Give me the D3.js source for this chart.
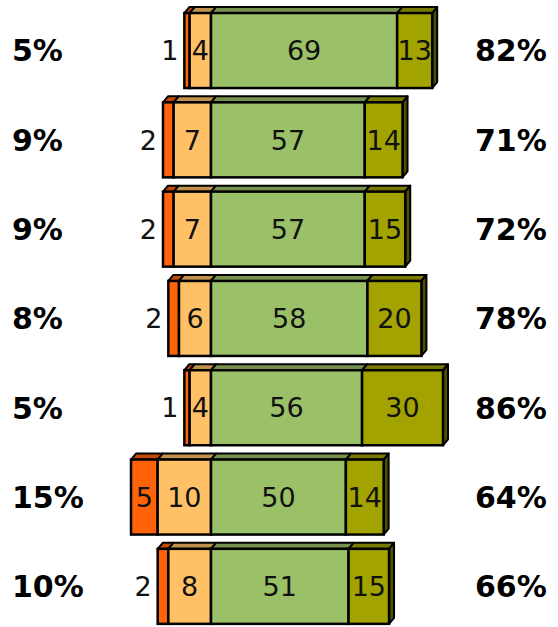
<!DOCTYPE html>
<html>
  <head>
  <title>Diverging 3D bars</title>
  <script src="https://cdn.jsdelivr.net/npm/d3@7"></script>
  <style type="text/css">
    body { margin: 0; background: #fff; }
    svg { display: block; }
  </style>
  </head>
  <body>
  </body>
  <script type="text/javascript">
    // data, one entry per row (top to bottom)
    var leftTotals  = ["5%", "9%", "9%", "8%", "5%", "15%", "10%"];
    var rightTotals = ["82%", "71%", "72%", "78%", "86%", "64%", "66%"];
    var strongNeg = [1, 2, 2, 2, 1, 5, 2];
    var weakNeg   = [4, 7, 7, 6, 4, 10, 8];
    var weakPos   = [69, 57, 57, 58, 56, 50, 51];
    var strongPos = [13, 14, 15, 20, 30, 14, 15];

    var w = 558, h = 627;
    var dx = 5, dy = 6;   // depth of the 3d effect

    var svg = d3.select("body").append("svg")
      .attr("width", w)
      .attr("height", h);

    var rows = d3.range(leftTotals.length);

    var y = d3.scaleBand()
      .domain(rows)
      .range([5.9, 631])
      .paddingInner(0.16)
      .paddingOuter(0.08);

    // the left half is drawn on a wider scale than the right half
    var xL = d3.scaleLinear().domain([0, 15]).range([211, 131]);
    var xR = d3.scaleLinear().domain([0, 86]).range([211, 443]);

    var colors = {
      sn: { front: "#ff6309", top: "#c04a06" },
      wn: { front: "#ffc066", top: "#c0904c" },
      wp: { front: "#9bc168", top: "#76924e" },
      sp: { front: "#a3a300", top: "#7a7a00", side: "#4f4f00" }
    };

    var segs = [];
    rows.forEach(function(i) {
      var a = xL(strongNeg[i] + weakNeg[i]), b = xL(weakNeg[i]), c = xL(0);
      var d = xR(weakPos[i]), e = xR(weakPos[i] + strongPos[i]);
      segs.push({ row: i, key: "sn", v: strongNeg[i], x0: a, x1: b });
      segs.push({ row: i, key: "wn", v: weakNeg[i], x0: b, x1: c });
      segs.push({ row: i, key: "wp", v: weakPos[i], x0: c, x1: d });
      segs.push({ row: i, key: "sp", v: strongPos[i], x0: d, x1: e, last: true });
    });

    var g = svg.selectAll("g.seg")
      .data(segs)
      .enter()
      .append("g")
      .attr("class", "seg");

    // top faces
    g.append("polygon")
      .attr("points", function(d) {
        var t = y(d.row);
        return [[d.x0, t], [d.x0 + dx, t - dy], [d.x1 + dx, t - dy], [d.x1, t]].join(" ");
      })
      .attr("fill", function(d) { return colors[d.key].top; })
      .attr("stroke", "#000")
      .attr("stroke-width", 2)
      .attr("stroke-linejoin", "round");

    // side face at the right end
    g.filter(function(d) { return d.last; })
      .append("polygon")
      .attr("points", function(d) {
        var t = y(d.row), bt = t + y.bandwidth();
        return [[d.x1, t], [d.x1 + dx, t - dy], [d.x1 + dx, bt - dy], [d.x1, bt]].join(" ");
      })
      .attr("fill", colors.sp.side)
      .attr("stroke", "#000")
      .attr("stroke-width", 2)
      .attr("stroke-linejoin", "round");

    // front faces
    g.append("rect")
      .attr("x", function(d) { return d.x0; })
      .attr("y", function(d) { return y(d.row); })
      .attr("width", function(d) { return d.x1 - d.x0; })
      .attr("height", y.bandwidth())
      .attr("fill", function(d) { return colors[d.key].front; })
      .attr("stroke", "#000")
      .attr("stroke-width", 2.5);

    // segment values: narrow ones go outside, to the left
    g.append("text")
      .attr("x", function(d) {
        var wide = (d.x1 - d.x0) > 18;
        return wide ? (d.x0 + d.x1) / 2 : d.x0 - 6;
      })
      .attr("y", function(d) { return y(d.row) + y.bandwidth() / 2; })
      .attr("dy", "0.36em")
      .attr("text-anchor", function(d) {
        return (d.x1 - d.x0) > 18 ? "middle" : "end";
      })
      .attr("font-family", "'DejaVu Sans', sans-serif")
      .attr("font-size", 27)
      .attr("fill", "#111")
      .text(function(d) { return d.v; });

    // totals either side
    svg.selectAll("text.lt")
      .data(rows)
      .enter()
      .append("text")
      .attr("class", "lt")
      .attr("x", 12)
      .attr("y", function(i) { return y(i) + y.bandwidth() / 2; })
      .attr("dy", "0.36em")
      .attr("font-family", "'DejaVu Sans', sans-serif")
      .attr("font-weight", "bold")
      .attr("font-size", 30)
      .text(function(i) { return leftTotals[i]; });

    svg.selectAll("text.rt")
      .data(rows)
      .enter()
      .append("text")
      .attr("class", "rt")
      .attr("x", 475)
      .attr("y", function(i) { return y(i) + y.bandwidth() / 2; })
      .attr("dy", "0.36em")
      .attr("font-family", "'DejaVu Sans', sans-serif")
      .attr("font-weight", "bold")
      .attr("font-size", 30)
      .text(function(i) { return rightTotals[i]; });
  </script>
</html>
